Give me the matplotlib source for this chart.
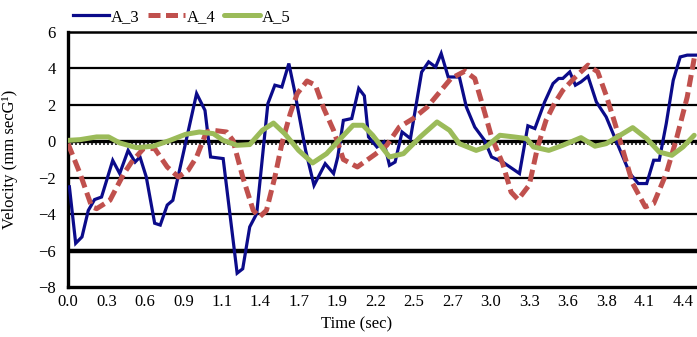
import matplotlib.pyplot as plt
import numpy as np

plt.rcParams['font.family'] = ['Liberation Serif', 'DejaVu Serif']

# time (s) and velocity (mm/s) for each channel
t_a3 = [0.01, 0.055, 0.10, 0.145, 0.19, 0.24, 0.32, 0.37, 0.43, 0.48, 0.515, 0.56,
        0.62, 0.66, 0.71, 0.75, 0.92, 0.98, 1.02, 1.11, 1.21, 1.25, 1.30, 1.35,
        1.43, 1.48, 1.53, 1.58, 1.62, 1.70, 1.76, 1.84, 1.90, 1.93, 1.97, 2.03,
        2.08, 2.12, 2.15, 2.21, 2.26, 2.30, 2.34, 2.39, 2.45, 2.53, 2.58, 2.63,
        2.67, 2.72, 2.80, 2.85, 2.91, 2.98, 3.03, 3.11, 3.23, 3.29, 3.34, 3.41,
        3.47, 3.51, 3.54, 3.59, 3.63, 3.67, 3.72, 3.78, 3.85, 3.92, 4.02, 4.08,
        4.14, 4.19, 4.23, 4.28, 4.33, 4.38, 4.43, 4.49]
v_a3 = [-2.5, -5.6, -5.25, -3.8, -3.2, -3.06, -1.05, -1.77, -0.5, -1.14, -0.86, -1.96,
        -4.5, -4.6, -3.5, -3.24, 2.62, 1.7, -0.86, -0.95, -7.24, -7.0, -4.7, -3.97,
        2.07, 3.08, 2.98, 4.27, 2.8, -0.5, -2.42, -1.23, -1.77, -0.86, 1.15, 1.25,
        2.9, 2.5, 0.24, -0.31, -0.04, -1.32, -1.14, 0.51, 0.15, 3.8, 4.36, 4.08,
        4.82, 3.53, 3.53, 1.88, 0.78, 0.05, -0.86, -1.14, -1.77, 0.85, 0.70, 2.16,
        3.17, 3.45, 3.45, 3.81, 3.08, 3.26, 3.57, 2.16, 1.34, 0.05, -1.77, -2.32,
        -2.32, -1.04, -1.04, 0.97, 3.35, 4.63, 4.73, 4.73]

t_a4 = [0.0, 0.086, 0.17, 0.205, 0.30, 0.40, 0.455, 0.54, 0.62, 0.71, 0.79, 0.86,
        0.92, 0.99, 1.04, 1.135, 1.18, 1.25, 1.325, 1.37, 1.42, 1.48, 1.53, 1.59,
        1.64, 1.71, 1.77, 1.83, 1.90, 1.97, 2.07, 2.20, 2.28, 2.37, 2.47, 2.57,
        2.66, 2.74, 2.84, 2.91, 2.98, 3.03, 3.11, 3.17, 3.22, 3.30, 3.36, 3.42,
        3.48, 3.54, 3.63, 3.72, 3.79, 3.85, 3.91, 3.97, 4.04, 4.13, 4.19, 4.28,
        4.35, 4.43, 4.48]
v_a4 = [-0.13, -1.77, -3.6, -3.7, -3.24, -1.77, -1.14, -0.4, -0.4, -1.41, -1.96, -1.59,
        -0.86, 0.51, 0.6, 0.51, 0.05, -1.96, -3.79, -4.16, -3.79, -1.96, -0.13, 1.52,
        2.62, 3.31, 3.08, 1.80, 0.60, -1.0, -1.41, -0.7, -0.22, 0.78, 1.25, 1.88,
        2.71, 3.45, 3.85, 3.45, 1.61, 0.24, -1.23, -2.79, -3.2, -2.4, -0.31, 1.15,
        2.07, 2.8, 3.53, 4.18, 3.81, 2.53, 1.06, -0.5, -2.32, -3.6, -3.42, -1.77,
        0.05, 2.43, 4.55]

t_a5 = [0.0, 0.086, 0.205, 0.29, 0.37, 0.49, 0.61, 0.73, 0.84, 0.94, 1.04, 1.11,
        1.21, 1.30, 1.39, 1.47, 1.55, 1.65, 1.75, 1.85, 1.95, 2.04, 2.11, 2.18,
        2.30, 2.40, 2.52, 2.64, 2.73, 2.80, 2.92, 2.99, 3.09, 3.19, 3.28, 3.33,
        3.44, 3.54, 3.67, 3.77, 3.85, 3.95, 4.04, 4.14, 4.23, 4.32, 4.40, 4.48]
v_a5 = [0.05, 0.09, 0.24, 0.24, -0.09, -0.35, -0.27, 0.05, 0.38, 0.51, 0.42, 0.05,
        -0.22, -0.18, 0.60, 1.0, 0.42, -0.5, -1.19, -0.68, 0.15, 0.88, 0.88, 0.33,
        -0.86, -0.68, 0.24, 1.06, 0.6, -0.13, -0.5, -0.31, 0.33, 0.24, 0.15, -0.31,
        -0.5, -0.22, 0.2, -0.27, -0.13, 0.33, 0.75, 0.15, -0.59, -0.77, -0.31, 0.33]

time_labels = ['0.0', '0.3', '0.6', '0.9', '1.1', '1.4', '1.7', '1.9', '2.2',
               '2.5', '2.7', '3.0', '3.3', '3.6', '3.8', '4.1', '4.4']

fig = plt.figure(figsize=(6.97, 3.37), dpi=100)
ax = fig.add_axes([68/697, 50/337, 629/697, 255/337])

# horizontal gridlines
for yv in [2, 4, -2, -4]:
    ax.axhline(yv, color='black', lw=1.6, zorder=1)
ax.axhline(-6, color='black', lw=3.2, zorder=1)
ax.axhline(0, color='black', lw=2.4, zorder=1)
# small tick marks hanging under the zero line
tk = np.arange(0, 4.5, 0.0286)
ax.vlines(tk, -0.22, 0, color='black', lw=1.1, zorder=1)

ax.plot(t_a3, v_a3, color='#0b0b8a', lw=2.3, label='A_3', zorder=3,
        solid_joinstyle='miter')
ax.plot(t_a4, v_a4, color='#c0504d', lw=3.6, ls=(0, (2.4, 1.1)), label='A_4', zorder=4)
ax.plot(t_a5, v_a5, color='#9bbb59', lw=3.6, label='A_5', zorder=5,
        solid_capstyle='round', solid_joinstyle='round')

ax.set_xlim(0, 4.5)
ax.set_ylim(-8, 6)
ax.set_yticks(np.arange(-8, 7, 2))
ax.set_xticks(np.arange(len(time_labels)) * 0.275)
ax.set_xticklabels(time_labels)
ax.tick_params(axis='both', length=0, labelsize=12)
ax.tick_params(axis='y', pad=9)
ax.tick_params(axis='x', pad=5)

for side in ['left', 'bottom']:
    ax.spines[side].set_linewidth(2.4)
ax.spines['top'].set_linewidth(1.8)
ax.spines['right'].set_visible(False)

ax.set_xlabel('Time (sec)', fontsize=12)
ax.xaxis.set_label_coords((357 - 68) / 629, -0.115)
ax.set_ylabel('Velocity (mm secG¹)', fontsize=12)
ax.yaxis.set_label_coords(-0.08, 0.5)

ax.legend(loc='lower left', bbox_to_anchor=(0.005, 1.02), ncol=3, frameon=False,
          fontsize=12, handlelength=2.2, handletextpad=0.1, columnspacing=0.5,
          borderaxespad=0.0, borderpad=0.1)

fig.savefig('out.png', dpi=100)
